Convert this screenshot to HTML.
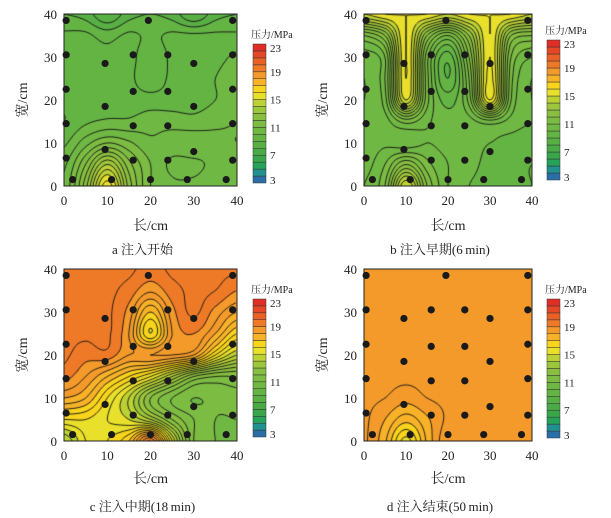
<!DOCTYPE html>
<html><head><meta charset="utf-8">
<style>
body{margin:0;background:#fff;width:611px;height:518px;position:relative;overflow:hidden;font-family:"Liberation Serif","Noto Serif CJK SC",serif;}
canvas{position:absolute;}
svg{position:absolute;left:0;top:0;}
</style></head><body>
<canvas id="c0"></canvas>
<canvas id="c1"></canvas>
<canvas id="c2"></canvas>
<canvas id="c3"></canvas>
<svg id="ov" width="611" height="518"></svg>
<script>
// grid values: rows y=0,5,...,40 ; cols x=0,5,...,40 (MPa)
const gridA=[
[10.6,12.8,15.8,12.8,11.0,10.6,10.6,10.8,10.8],
[10.4,12.0,14.0,12.2,11.0,10.4,10.4,10.6,10.6],
[9.9,10.8,11.5,11.1,10.6,10.7,10.8,10.6,10.5],
[9.5,9.9,10.1,10.1,10.3,10.3,10.2,10.4,10.5],
[9.6,9.6,9.7,9.7,9.7,9.7,9.7,10,10.3],
[9.6,9.6,9.6,9.6,9.2,9.6,9.6,10,10.3],
[9.6,9.6,9.6,9.7,9.1,9.6,9.6,9.8,10.1],
[9.6,9.6,9.3,9.6,9.4,9.6,9.6,9.6,9.6],
[9,8.8,8,8.8,9,8.8,8,8.8,9]];
const gridB=[
[10.5,11.5,15,12,10.5,10,9.8,9.6,9.5],
[10.3,11,12.5,11.2,10.5,10.2,9.8,9.6,9.5],
[10.2,10.4,10.2,10.5,10.3,10.3,10.0,9.8,9.6],
[10.2,10.3,11.2,10.6,10.2,10.3,10.8,10.3,10],
[10,10.8,15,11.2,9.8,11.2,15.5,11,10],
[10,11,15.5,11.2,9,11.5,15.7,11.2,10],
[10.2,11,15.5,11.2,9.2,12,15.5,11.5,10.5],
[11.5,12.5,15.5,12.5,11,13,15.5,12.5,12],
[15,15.5,15.5,15.5,15,15.5,15.5,15.5,15]];
const gridC=[
[14,15.5,16,17,19.5,15,11.5,11,11],
[16,16,15.5,15,14,12.5,11.5,11,11],
[18,17.5,16,14.5,12.5,11.5,11,11.2,11.3],
[19.2,18.5,17.5,16.5,15.5,14,12.5,12,12],
[19.6,19.2,19.3,18.5,18.5,18.5,18,16,14.5],
[19.6,19.6,19.6,18.5,16,18.5,19,18,16.5],
[19.6,19.6,19.6,18.8,17,18.8,19.6,18.8,18],
[19.6,19.6,19.6,19.3,18.6,19.3,19.6,19.5,19],
[19.6,19.6,19.6,19.6,19.3,19.6,19.6,19.6,19.6]];
const gridD=[
[18.6,17.6,15.8,17.6,18.9,18.6,18.6,18.6,18.6],
[18.6,18.0,17.2,17.9,18.6,18.6,18.6,18.6,18.6],
[18.6,18.5,18.2,18.5,18.6,18.6,18.6,18.6,18.6],
[18.6,18.6,18.6,18.6,18.6,18.6,18.6,18.6,18.6],
[18.6,18.6,18.6,18.6,18.6,18.6,18.6,18.6,18.6],
[18.6,18.6,18.6,18.6,18.6,18.6,18.6,18.6,18.6],
[18.6,18.6,18.6,18.6,18.6,18.6,18.6,18.6,18.6],
[18.6,18.6,18.6,18.6,18.6,18.6,18.6,18.6,18.6],
[18.6,18.6,18.6,18.6,18.6,18.6,18.6,18.6,18.6]];
const sensorX=[0.5,19.5,39,0.5,16,24,39,9.5,30,0.5,16,24,39,9.5,30,0.5,16,24,39,9.5,30,0.5,16,24,39,2,11,20,28.5,37.5];
const sensorY=[38.5,38.5,38.5,30.5,30.5,30.5,30.5,28.5,28.5,22.5,22,22,22.5,18.5,18.5,14.5,14,14,14.5,8.5,8,6.5,6,6,6,1.5,1.5,1.5,1.5,1.5];
const xTicks=[0,10,20,30,40];
const yTicks=[0,10,20,30,40];
const cbTicks=[23,19,15,11,7,3];
const bandColors=["#2a6ea8","#20918f","#25a35a","#3aa64a","#4aab46","#58af44","#64b444","#70b844","#7cbc42","#88bf40","#9cc63c","#bcd234","#e8e02a","#f8d41c","#f7b228","#f39a2a","#ee7a28","#ea6126","#e54626","#df2e26"];
const grids=[gridA,gridB,gridC,gridD];
const captions=["a  注入开始","b  注入早期(6\u2009min)","c  注入中期(18\u2009min)","d 注入结束(50\u2009min)"];
const panels=[
 {x0:64,x1:237,y0:14,y1:186,cbx:253,cby0:44,cby1:183,cap:249,lab:226,ylab:22},
 {x0:364,x1:532,y0:14,y1:186,cbx:547,cby0:40,cby1:180,cap:249,lab:226,ylab:322},
 {x0:64,x1:237,y0:269,y1:441,cbx:253,cby0:299,cby1:437,cap:506,lab:479,ylab:22},
 {x0:364,x1:532,y0:269,y1:441,cbx:547,cby0:299,cby1:438,cap:506,lab:479,ylab:322}];
function cr(p0,p1,p2,p3,t){return 0.5*((2*p1)+(-p0+p2)*t+(2*p0-5*p1+4*p2-p3)*t*t+(-p0+3*p1-3*p2+p3)*t*t*t);}
function field(g,xc,yc){
 const gx=xc/5,gy=yc/5;let i=Math.min(7,Math.floor(gx)),j=Math.min(7,Math.floor(gy));
 const tx=gx-i,ty=gy-j;const cl=v=>Math.max(0,Math.min(8,v));
 const rows=[];for(let k=-1;k<=2;k++){const r=g[cl(j+k)];rows.push(cr(r[cl(i-1)],r[cl(i)],r[cl(i+1)],r[cl(i+2)],tx));}
 return cr(rows[0],rows[1],rows[2],rows[3],ty);}
function colorOf(v){let b=Math.floor(v)-3;b=Math.max(0,Math.min(19,b));return bandColors[b];}
const NS="http://www.w3.org/2000/svg";const ov=document.getElementById('ov');
function mk(tag,attrs,parent){const e=document.createElementNS(NS,tag);for(const k in attrs)e.setAttribute(k,attrs[k]);(parent||ov).appendChild(e);return e;}
function txt(s,x,y,anchor,size,name){const t=mk('text',{x:x,y:y,'text-anchor':anchor,'font-size':size,fill:'#222','font-family':'"Liberation Serif","Noto Serif CJK SC",serif'});t.textContent=s;
 
 
 return t;}
panels.forEach((P,pi)=>{
 const g=grids[pi];const W=P.x1-P.x0,H=P.y1-P.y0;
 const sx=v=>P.x0+v/40*W, sy=v=>P.y1-v/40*H;
 const cv=document.getElementById('c'+pi);cv.width=W;cv.height=H;cv.style.left=P.x0+'px';cv.style.top=P.y0+'px';
 const ctx=cv.getContext('2d');
 const nx=W+1,ny=H+1;const val=[];
 for(let py=0;py<ny;py++){const row=[];for(let px=0;px<nx;px++){row.push(field(g,px/W*40,(H-py)/H*40));}val.push(row);}
 for(let py=0;py<H;py++)for(let px=0;px<W;px++){ctx.fillStyle=colorOf(val[py][px]);ctx.fillRect(px,py,1,1);}
 ctx.strokeStyle='#111';ctx.lineWidth=0.9;ctx.beginPath();
 const s=2;
 for(let lv=4;lv<=22;lv+=0.5){
  for(let py=0;py+s<ny;py+=s)for(let px=0;px+s<nx;px+=s){
   const a=val[py][px],b=val[py][px+s],c=val[py+s][px+s],d=val[py+s][px];
   const pts=[];
   const e=(v1,v2,x1,y1,x2,y2)=>{if((v1<lv)!==(v2<lv)){const t=(lv-v1)/(v2-v1);pts.push([x1+(x2-x1)*t,y1+(y2-y1)*t]);}};
   e(a,b,px,py,px+s,py);e(b,c,px+s,py,px+s,py+s);e(c,d,px+s,py+s,px,py+s);e(d,a,px,py+s,px,py);
   for(let k=0;k+1<pts.length;k+=2){ctx.moveTo(pts[k][0],pts[k][1]);ctx.lineTo(pts[k+1][0],pts[k+1][1]);}
  }}
 ctx.stroke();
 const grp=mk('g',{});
 
 
 const fr=mk('rect',{x:P.x0,y:P.y0,width:W,height:H,fill:'none',stroke:'#222','stroke-width':1},grp);
 
 
 sensorX.forEach((xv,k)=>{const c=mk('circle',{cx:sx(xv),cy:sy(sensorY[k]),r:3.6,fill:'#1a1a1a'},grp);
  
  });
 xTicks.forEach(t=>{txt(String(t),sx(t),P.y1+19,'middle',13,'x-tick-label');});
 yTicks.forEach(t=>{txt(String(t),P.x0-7,sy(t)+5,'end',13,'y-tick-label');});
 txt('长/cm',(P.x0+P.x1)/2,P.lab+4,'middle',14,'x-axis-title');
 const yl=txt('宽/cm',0,0,'middle',14,'y-axis-title');yl.setAttribute('transform','translate('+(P.ylab+5)+','+((P.y0+P.y1)/2)+') rotate(-90)');
 txt(captions[pi],(P.x0+P.x1)/2-8,P.cap+5,'middle',13,'panel-caption');
 const ch=(P.cby1-P.cby0)/20;
 bandColors.forEach((col,k)=>{const r=mk('rect',{x:P.cbx,y:P.cby1-(k+1)*ch,width:13,height:ch,fill:col,stroke:'#333','stroke-width':0.5},grp);
  
  });
 cbTicks.forEach(t=>{txt(String(t),P.cbx+17,P.cby1-(t-3)/20*(P.cby1-P.cby0)+ (t===23?8:(t===3?1:4)),'start',11,'colorbar-tick');});
 txt('压力/MPa',P.cbx-2,P.cby0-6,'start',10,'colorbar-title');
});
</script>
</body></html>
